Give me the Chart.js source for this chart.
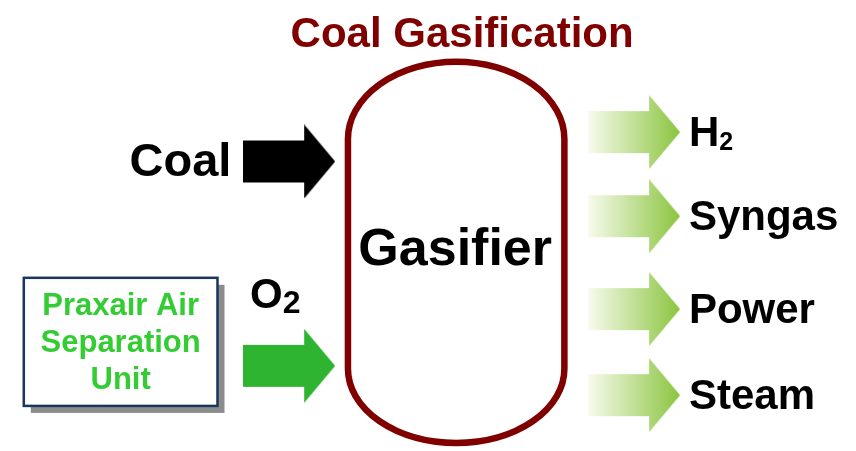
<!DOCTYPE html>
<html>
<head>
<meta charset="utf-8">
<script src="https://cdn.jsdelivr.net/npm/chart.js@4/dist/chart.umd.min.js"></script>
<style>
  html, body { margin: 0; padding: 0; background: #fff; }
  #wrap { width: 856px; height: 451px; position: relative; }
</style>
</head>
<body>
<div id="wrap"><canvas id="diagram"></canvas></div>
<script>
'use strict';

// ── Diagram content ──────────────────────────────────────────────────────────
const titleText    = 'Coal Gasification';
const centreLabel  = 'Gasifier';
const inputLabels  = ['Coal', 'O2'];
const inputRows    = [160, 369];          // arrow centre, diagram y units
const outputLabels = ['H2', 'Syngas', 'Power', 'Steam'];
const outputRows   = [130, 216, 311, 399];
const sourceLines  = ['Praxair Air', 'Separation', 'Unit'];

const FONT   = '"Liberation Sans", Arial, Helvetica, sans-serif';
const MAROON = '#800000';

// arrow glyph used as point style
function makeArrow(paint) {
  const c = document.createElement('canvas');
  c.width = 92; c.height = 74;
  const g = c.getContext('2d');
  const mid = 37, sh = 21, hx = 61;
  g.beginPath();
  g.moveTo(0, mid - sh);
  g.lineTo(hx, mid - sh);
  g.lineTo(hx, 0);
  g.lineTo(92, mid);
  g.lineTo(hx, 74);
  g.lineTo(hx, mid + sh);
  g.lineTo(0, mid + sh);
  g.closePath();
  g.fillStyle = typeof paint === 'function' ? paint(g) : paint;
  g.fill();
  return c;
}

const outArrow = makeArrow(g => {
  const gr = g.createLinearGradient(0, 0, 92, 0);
  gr.addColorStop(0, '#f8fbee');
  gr.addColorStop(1, '#8bc53f');
  return gr;
});
const coalArrow = makeArrow('#000000');
const oxyArrow  = makeArrow('#2fb431');

// text with digit subscripts (H2, O2)
function drawChem(ctx, text, x, y, size, subSize, drop, align) {
  const parts = text.split('').map(ch => ({ ch, sub: /\d/.test(ch) }));
  let total = 0;
  parts.forEach(p => {
    ctx.font = `bold ${p.sub ? subSize : size}px ${FONT}`;
    p.w = ctx.measureText(p.ch).width;
    total += p.w;
  });
  let cx = align === 'right' ? x - total : align === 'center' ? x - total / 2 : x;
  ctx.textAlign = 'left';
  parts.forEach(p => {
    ctx.font = `bold ${p.sub ? subSize : size}px ${FONT}`;
    ctx.fillText(p.ch, cx, p.sub ? y + drop : y);
    cx += p.w;
  });
}

const diagramPlugin = {
  id: 'diagram',
  beforeDatasetsDraw(chart) {
    const { ctx, scales: { x, y } } = chart;
    ctx.save();

    // separation unit box with shadow
    const bl = x.getPixelForValue(19), br = x.getPixelForValue(215);
    const bt = y.getPixelForValue(279), bb = y.getPixelForValue(410);
    ctx.fillStyle = '#8c8c8c';
    ctx.fillRect(bl + 7, bt + 7, br - bl, bb - bt);
    ctx.fillStyle = '#ffffff';
    ctx.fillRect(bl, bt, br - bl, bb - bt);
    ctx.lineWidth = 2.5;
    ctx.strokeStyle = '#17375e';
    ctx.strokeRect(bl, bt, br - bl, bb - bt);

    // gasifier vessel
    const cx = x.getPixelForValue(456.5);
    const rx = x.getPixelForValue(566) - cx;
    const top = y.getPixelForValue(58), s1 = y.getPixelForValue(137);
    const s2 = y.getPixelForValue(372), bot = y.getPixelForValue(448);
    ctx.beginPath();
    ctx.ellipse(cx, s1, rx, s1 - top, 0, Math.PI, 2 * Math.PI);
    ctx.lineTo(cx + rx, s2);
    ctx.ellipse(cx, s2, rx, bot - s2, 0, 0, Math.PI);
    ctx.closePath();
    ctx.lineWidth = 6.5;
    ctx.strokeStyle = MAROON;
    ctx.stroke();
    ctx.restore();
  },
  afterDatasetsDraw(chart) {
    const { ctx, scales: { x, y } } = chart;
    ctx.save();
    ctx.textBaseline = 'alphabetic';

    ctx.fillStyle = MAROON;
    ctx.textAlign = 'center';
    ctx.font = `bold 42px ${FONT}`;
    ctx.fillText(titleText, x.getPixelForValue(462.5), y.getPixelForValue(43));

    ctx.fillStyle = '#000000';
    ctx.font = `bold 52px ${FONT}`;
    ctx.fillText(centreLabel, x.getPixelForValue(455.5), y.getPixelForValue(266));

    // inputs
    drawChem(ctx, inputLabels[0], x.getPixelForValue(229), y.getPixelForValue(inputRows[0] + 15), 47, 32, 5, 'right');
    drawChem(ctx, inputLabels[1], x.getPixelForValue(248), y.getPixelForValue(inputRows[1] - 59), 42, 32, 5, 'left');

    // outputs
    outputLabels.forEach((lab, i) => {
      drawChem(ctx, lab, x.getPixelForValue(692), y.getPixelForValue(outputRows[i] + 14), 42, 25, 4, 'left');
    });

    // separation unit text
    ctx.fillStyle = '#33cc33';
    sourceLines.forEach((line, i) => {
      drawChem(ctx, line, x.getPixelForValue(117), y.getPixelForValue(317 + i * 38), 31, 31, 0, 'center');
    });
    ctx.restore();
  }
};

new Chart(document.getElementById('diagram'), {
  type: 'scatter',
  data: {
    datasets: [
      {
        label: 'Outputs',
        data: outputRows.map(r => ({ x: 636.5, y: r })),
        pointStyle: outArrow,
      },
      {
        label: 'Coal',
        data: [{ x: 287.5, y: inputRows[0] }],
        pointStyle: coalArrow,
      },
      {
        label: 'O2',
        data: [{ x: 287.5, y: inputRows[1] }],
        pointStyle: oxyArrow,
      },
    ],
  },
  options: {
    responsive: true, maintainAspectRatio: false,
    animation: false,
    events: [],
    layout: { padding: 0 },
    plugins: {
      legend: { display: false },
      tooltip: { enabled: false },
    },
    scales: {
      x: { type: 'linear', display: false, min: 0, max: 856 },
      y: { type: 'linear', display: false, min: 0, max: 451, reverse: true },
    },
  },
  plugins: [diagramPlugin],
});
</script>
</body>
</html>
